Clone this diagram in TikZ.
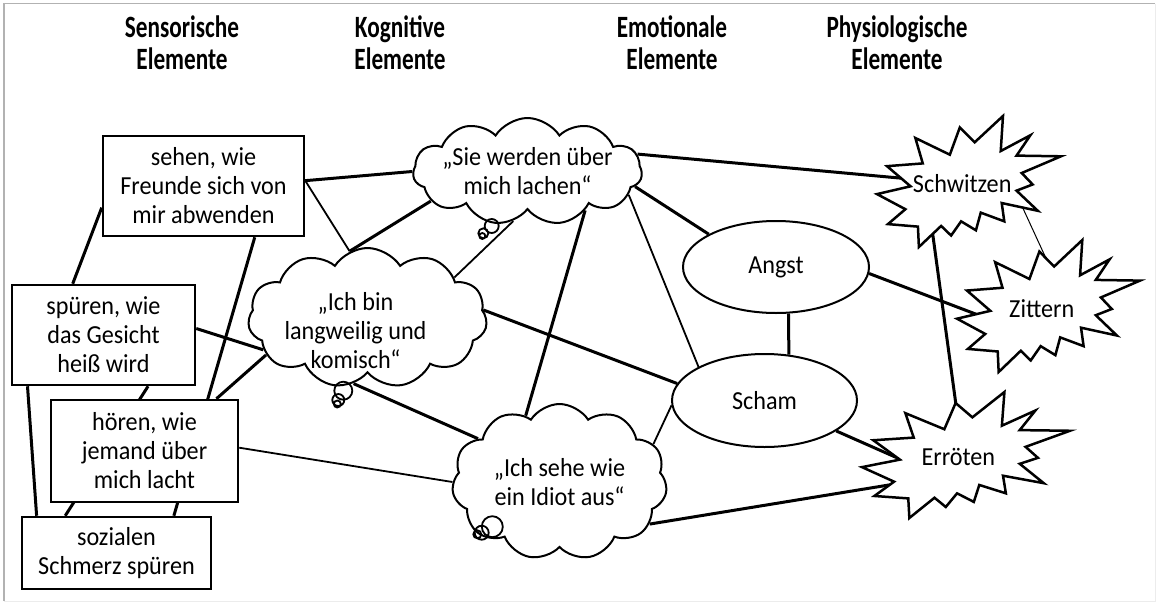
\documentclass[tikz,border=0pt]{standalone}
\usepackage{fontspec}
\setmainfont{Carlito}[FakeStretch=0.93]
\newfontfamily\headfont{Carlito}[FakeStretch=0.75]
\usetikzlibrary{shapes.geometric,shapes.symbols,backgrounds}

% outline of an explosion in a 216 x 216 box
\newcommand{\burstpath}{(114.62,43.42) -- (147.90,0) -- (145.25,57.77) -- (180.07,31.72)
  -- (163.80,65.32) -- (216,66.45) -- (169.85,94.02) -- (182.70,112.90) -- (163.80,123.10)
  -- (188.77,156.32) -- (146.40,143.50) -- (149.42,173.70) -- (121.80,159.35)
  -- (116.12,188.42) -- (98.72,173.70) -- (87.00,197.12) -- (75.27,181.25) -- (49.17,216)
  -- (48.05,182.40) -- (12.85,178.25) -- (33.30,153.70) -- (0,128.77) -- (39.35,115.92)
  -- (11.72,82.70) -- (53.72,78.17) -- (45.02,36.25) -- (85.50,63.82) -- (97.22,18.87) -- cycle}

\tikzset{
  heading/.style={align=center, anchor=base, font=\headfont\fontsize{31}{32}\selectfont\bfseries},
  box/.style={draw, line width=2.5, fill=white, align=center, inner sep=0pt,
    font=\fontsize{26}{29}\selectfont},
  thought/.style={cloud, draw, line width=2, fill=white, cloud puffs=11,
    cloud puff arc=115, cloud ignores aspect, inner sep=0pt},
  thoughttext/.style={align=center, font=\fontsize{26}{29}\selectfont},
  bubble/.style={draw, line width=1.8},
  feeling/.style={ellipse, draw, line width=2, fill=white, font=\fontsize{26}{29}\selectfont},
  burst/.style={draw, line width=2.5, fill=white, line join=miter},
  bursttext/.style={inner sep=0pt, font=\fontsize{26}{29}\selectfont},
  link/.style={line width=3},
  weak link/.style={line width=1.8},
}

% name, left, top, width, height, text
\newcommand{\explosion}[6]{%
  \draw[burst, shift={(#2,#3)}, xscale=#4/216, yscale=#5/216] \burstpath;
  \node[bursttext, minimum width=0.429*#4, minimum height=0.442*#5] (#1)
    at ({#2+0.463*#4},{#3+0.517*#5}) {#6};
}

\begin{document}
\begin{tikzpicture}[x=1pt, y=-1pt]
\useasboundingbox (0,0) rectangle (1158,605);
\draw[gray!60, line width=1.5] (4,601) -- (4,3.5) -- (1155,3.5);
\draw[gray!15, line width=1] (1155,3.5) -- (1155,601) -- (4,601);

\node[heading] (sens) at (182,69) {Sensorische\\Elemente};
\node[heading] (kogn) at (400,69) {Kognitive\\Elemente};
\node[heading] (emot) at (672,69) {Emotionale\\Elemente};
\node[heading] (phys) at (897,69) {Physiologische\\Elemente};

\node[box, minimum width=201, minimum height=100] (sehen) at (203.5,186) {sehen, wie\\Freunde sich von\\mir abwenden};
\node[box, minimum width=183, minimum height=100] (spueren) at (103.5,335) {spüren, wie\\das Gesicht\\heiß wird};
\node[box, minimum width=187, minimum height=102] (hoeren) at (144.5,451) {hören, wie\\jemand über\\mich lacht};
\node[box, minimum width=189, minimum height=72] (schmerz) at (116.5,553) {sozialen\\Schmerz spüren};

\node[thought, minimum width=229, minimum height=107,
  label={[thoughttext]center:{„Sie werden über\\mich lachen“}}] (lachen) at (527.5,171.5) {};
\node[thought, minimum width=239, minimum height=140,
  label={[thoughttext, xshift=-12, yshift=-13]center:{„Ich bin\\langweilig und\\komisch“}}] (langweilig) at (367.5,318) {};
\node[thought, minimum width=215, minimum height=156,
  label={[thoughttext]center:{„Ich sehe wie\\ein Idiot aus“}}] (idiot) at (559.5,482) {};
\draw[bubble] (491.7,226) circle[radius=7pt] (483.3,233.3) circle[radius=5pt] (482.3,236) circle[radius=3pt];
\draw[bubble] (343.3,390.7) circle[radius=9pt] (338.3,400) circle[radius=6pt] (337.3,404) circle[radius=3.5pt];
\draw[bubble] (492.3,526.7) circle[radius=10.5pt] (481.7,532.7) circle[radius=7pt] (477.3,534.3) circle[radius=4pt];

\node[feeling, minimum width=186, minimum height=92] (angst) at (776,267) {Angst};
\node[feeling, minimum width=185, minimum height=93] (scham) at (764.5,400.5) {Scham};

\explosion{schwitzen}{877}{116}{184}{131}{Schwitzen}
\explosion{zittern}{957}{240}{183}{132}{Zittern}
\explosion{erroeten}{862}{392}{208}{126}{Erröten}

\begin{scope}[on background layer]
\foreach \a/\b in {sehen.3/lachen.180, lachen.197/langweilig.105, lachen.326/idiot.117,
  lachen.352/angst.154, lachen.9/schwitzen, langweilig.4/scham.169, langweilig.258/idiot.152,
  spueren.4/langweilig.197, sehen.315/schmerz.33, sehen.192/spueren.121, spueren.214/schmerz.155,
  spueren.311/schmerz.144, hoeren.36/langweilig.200, angst.285/scham.62, angst.356/zittern.202,
  schwitzen.222/erroeten.88, scham.337/erroeten.190, idiot.335/erroeten.208}
  \draw[link] (\a) -- (\b);
\foreach \a/\b in {sehen.3/langweilig.105, lachen.254/langweilig.25, lachen.347/scham.153,
  hoeren.2/idiot.180, idiot.22/scham.183}
  \draw[weak link] (\a) -- (\b);
\draw[line width=1] (schwitzen.east) -- (zittern.65);
\end{scope}
\end{tikzpicture}
\end{document}
